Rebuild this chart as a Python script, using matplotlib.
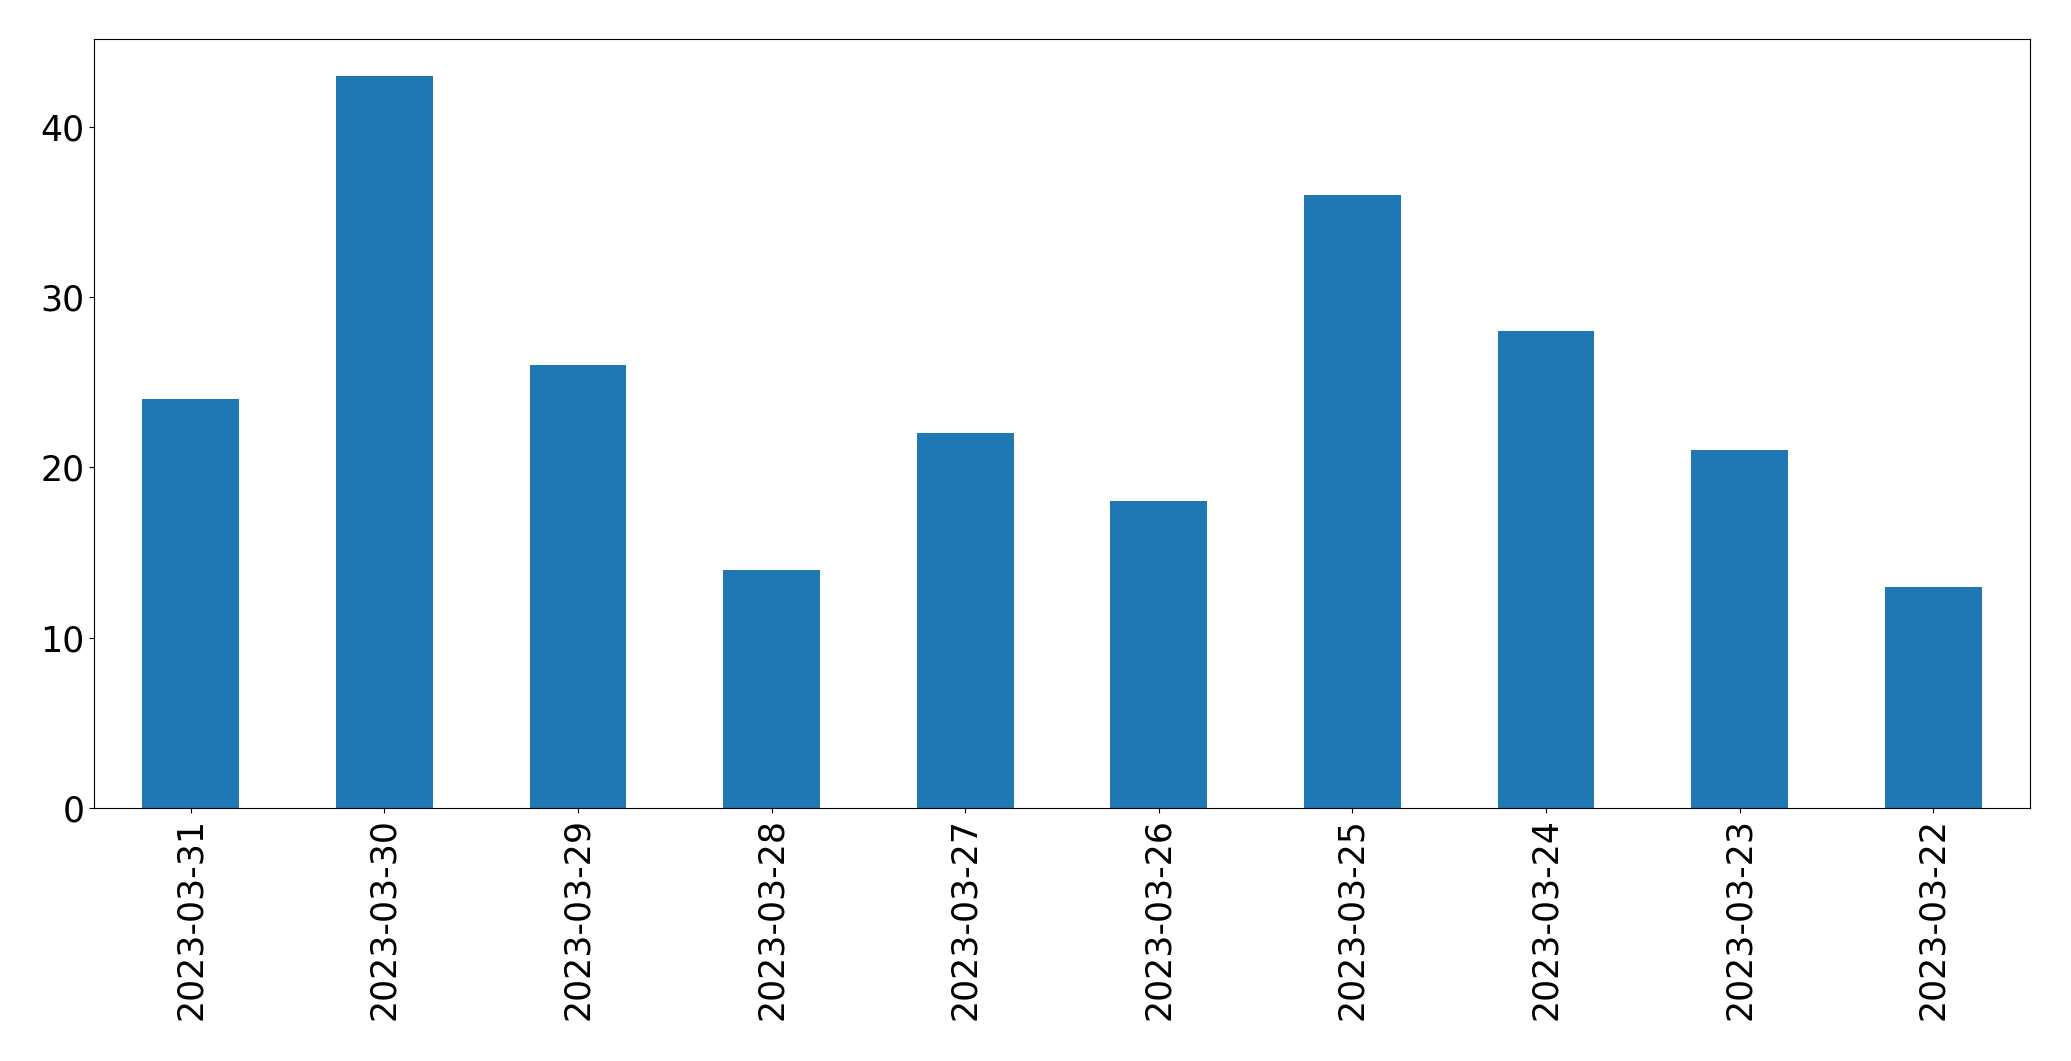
import matplotlib
matplotlib.use('Agg')
import matplotlib.pyplot as plt
import numpy as np

dates = ['2023-03-31', '2023-03-30', '2023-03-29', '2023-03-28', '2023-03-27',
         '2023-03-26', '2023-03-25', '2023-03-24', '2023-03-23', '2023-03-22']
counts = [24, 43, 26, 14, 22, 18, 36, 28, 21, 13]

fig, ax = plt.subplots(figsize=(20.71, 10.61), dpi=100)
x = np.arange(len(dates))
ax.bar(x, counts, width=0.5, color='#1f77b4')
ax.set_xlim(-0.5, len(dates) - 0.5)
ax.set_ylim(0, max(counts) * 1.05)
ax.set_xticks(x)
ax.set_xticklabels(dates, rotation=90)
ax.tick_params(labelsize=25)
ax.set_yticks([0, 10, 20, 30, 40])

plt.subplots_adjust(left=0.0454, right=0.9802, top=0.963, bottom=0.2385)
plt.savefig('out.png')
